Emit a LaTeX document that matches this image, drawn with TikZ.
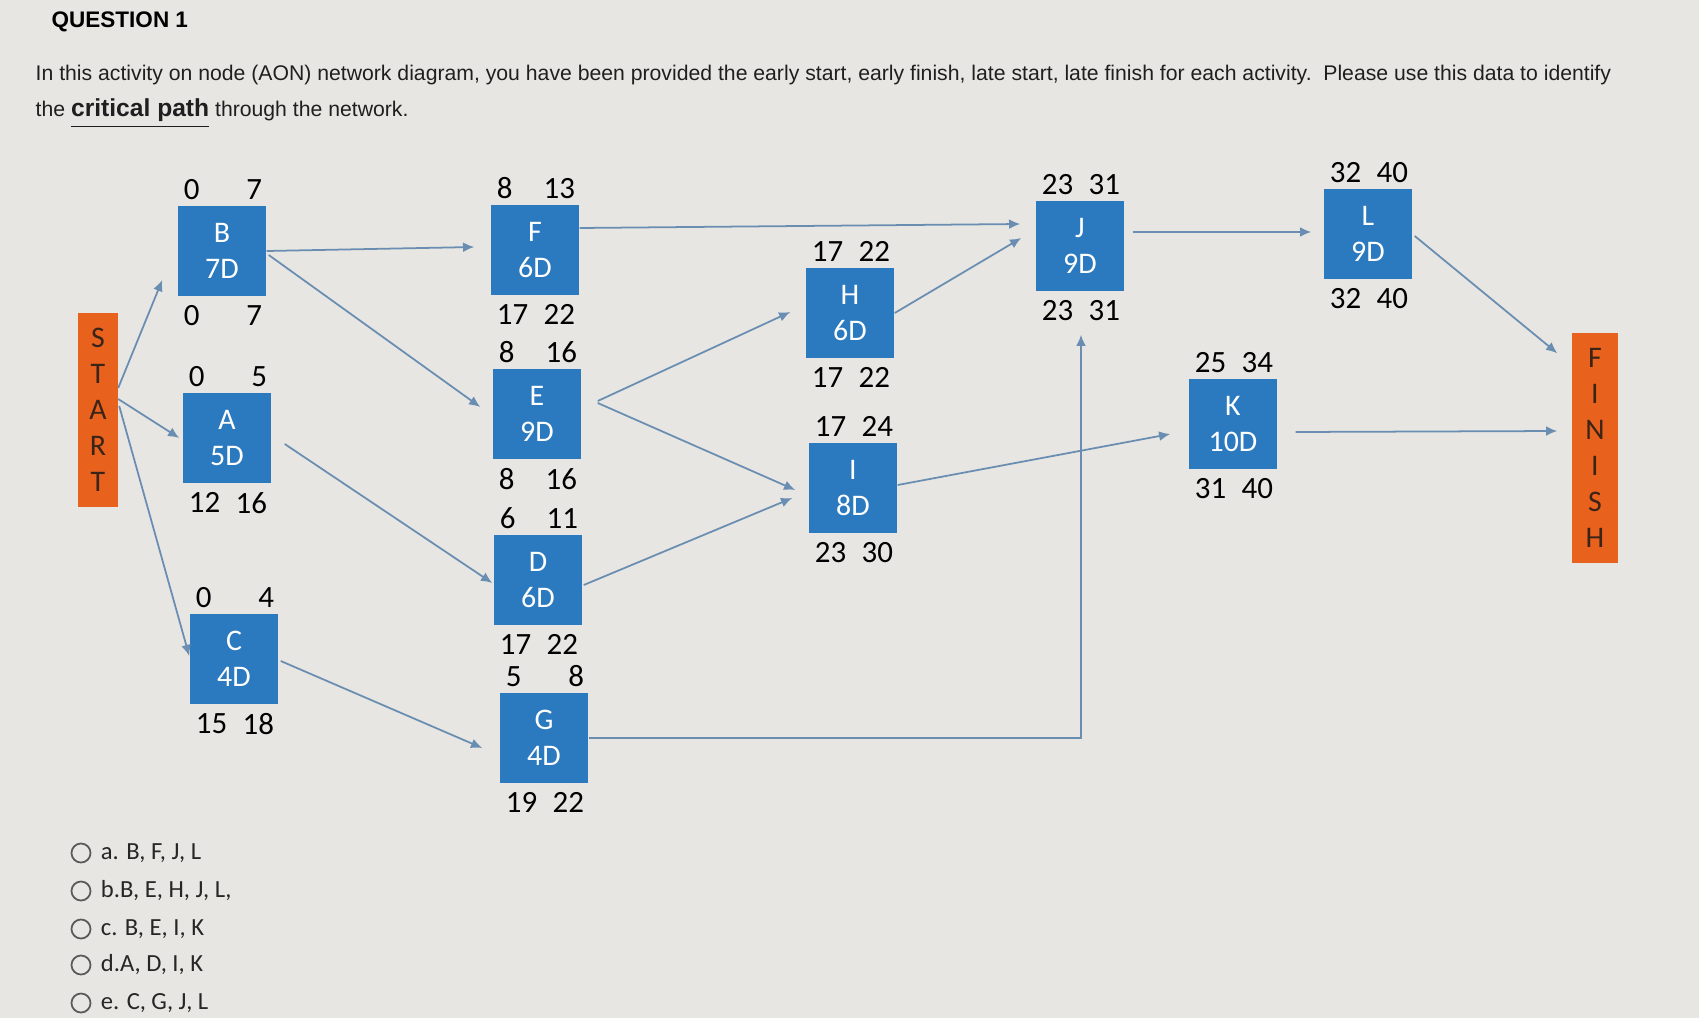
\documentclass[tikz,border=0pt]{standalone}
\usepackage{fontspec}
\setmainfont{Liberation Sans}
\newfontfamily\calibrifont{Carlito}
\usepackage{tikz}
\usetikzlibrary{calc}
\usetikzlibrary{positioning}
\usetikzlibrary{arrows.meta}

\definecolor{paper}{HTML}{E7E6E2}
\definecolor{actblue}{HTML}{2B79BE}
\definecolor{endorange}{HTML}{E8621E}
\definecolor{linkblue}{HTML}{6A8DB2}
\definecolor{endtext}{HTML}{3A2418}

% activity box with its four times
\newcommand{\actnode}[9]{%
\node[actbox] (#1) at (#2,#3) {#4\\#5};
\node[num,anchor=west] (#1es) at ($(#1.north west)+(6,-16)$) {#6};
\node[num,anchor=east] (#1ef) at ($(#1.north east)+(-4,-16)$) {#7};
\node[num,anchor=west] (#1ls) at ($(#1.south west)+(6,19)$) {#8};
\node[num,anchor=east] (#1lf) at ($(#1.south east)+(-4,19)$) {#9};
}

\begin{document}
\begin{tikzpicture}[x=0.01cm,y=-0.01cm,
actbox/.style={fill=actblue,text=white,minimum width=0.88cm,minimum height=0.9cm,inner sep=0pt,align=center,font=\calibrifont\fontsize{8.5}{10.4}\selectfont},
num/.style={inner sep=0pt,font=\calibrifont\fontsize{8.8}{10}\selectfont},
endbox/.style={fill=endorange,text=endtext,inner sep=0pt,align=center,font=\calibrifont\fontsize{8.5}{10.24}\selectfont},
link/.style={draw=linkblue,line width=0.5pt,-{Latex[length=3.2pt,width=2.8pt]}},
radio/.style={circle,draw=black!65,line width=0.5pt,minimum size=0.19cm,inner sep=0pt},
opt/.style={inner sep=0pt,text=black!85,font=\calibrifont\fontsize{7}{8}\selectfont}]
\fill[paper] (0,0) rectangle (1699,1018);
\useasboundingbox (0,0) rectangle (1699,1018);

\node[anchor=west,inner sep=0pt,font=\bfseries\fontsize{6.4}{8}\selectfont] (title) at (51,22) {QUESTION 1};
\node[anchor=west,inner sep=0pt,align=left,text=black!88,font=\fontsize{6.03}{10.2}\selectfont] (intro) at (35,97)
{In this activity on node (AON) network diagram, you have been provided the early start, early finish, late start, late finish for each activity.\ \ Please use this data to identify\\
the {\fontsize{7}{10.2}\selectfont\bfseries\underline{critical path}} through the network.};

\node[endbox,minimum width=0.39cm,minimum height=1.93cm] (start) at (98,410) {S\\T\\A\\R\\T};
\node[endbox,minimum width=0.46cm,minimum height=2.3cm] (finish) at (1595,448) {F\\I\\N\\I\\S\\H};

\actnode{b}{222}{251}{B}{7D}{0}{7}{0}{7}
\actnode{a}{227}{438}{A}{5D}{0}{5}{12}{16}
\actnode{c}{234}{659}{C}{4D}{0}{4}{15}{18}
\actnode{f}{535}{250}{F}{6D}{8}{13}{17}{22}
\actnode{e}{537}{414}{E}{9D}{8}{16}{8}{16}
\actnode{d}{538}{580}{D}{6D}{6}{11}{17}{22}
\actnode{g}{544}{738}{G}{4D}{5}{8}{19}{22}
\actnode{h}{850}{313}{H}{6D}{17}{22}{17}{22}
\actnode{i}{853}{488}{I}{8D}{17}{24}{23}{30}
\actnode{j}{1080}{246}{J}{9D}{23}{31}{23}{31}
\actnode{k}{1233}{424}{K}{10D}{25}{34}{31}{40}
\actnode{l}{1368}{234}{L}{9D}{32}{40}{32}{40}

\draw[link] ($(start.east)+(0,-22)$) -- ($(b.west)+(-15,29)$);
\draw[link] ($(start.east)+(0,-11)$) -- ($(a.west)+(-3,0)$);
\draw[link] ($(start.east)+(1,-4)$) -- ($(c.west)+(0,-3)$);
\draw[link] (b.east) -- ($(f.west)+(-16,-3)$);
\draw[link] ($(b.east)+(2,4)$) -- ($(e.west)+(-12,-7)$);
\draw[link] ($(a.east)+(13,6)$) -- ($(d.west)+(-1,3)$);
\draw[link] ($(c.east)+(2,2)$) -- ($(g.west)+(-17,10)$);
\draw[link] ($(f.east)+(0,-22)$) -- ($(j.west)+(-15,-22)$);
\draw[link] ($(e.east)+(16,-13)$) -- ($(h.west)+(-15,-1)$);
\draw[link] ($(e.east)+(16,-11)$) -- ($(i.west)+(-13,2)$);
\draw[link] ($(d.east)+(1,5)$) -- ($(i.west)+(-16,10)$);
\draw[link] (h.east) -- ($(j.west)+(-14,-8)$);
\draw[link] (g.east) -| ($(j.south)+(1,43)$);
\draw[link] ($(j.east)+(8,-14)$) -- ($(l.west)+(-12,-2)$);
\draw[link] ($(i.east)+(0,-3)$) -- ($(k.west)+(-18,10)$);
\draw[link] ($(k.east)+(18,8)$) -- ($(finish.west)+(-14,-17)$);
\draw[link] ($(l.east)+(2,2)$) -- ($(finish.north west)+(-14,21)$);

\foreach \y/\lab/\txt in {853/a/{a. B, F, J, L},891/b/{b.B, E, H, J, L,},929/c/{c. B, E, I, K},965/d/{d.A, D, I, K},1003/e/{e. C, G, J, L}} {
\node[radio] (opt\lab) at (81,\y) {};
\node[opt,right=2.5pt of opt\lab] (txt\lab) {\txt};
}
\end{tikzpicture}
\end{document}
